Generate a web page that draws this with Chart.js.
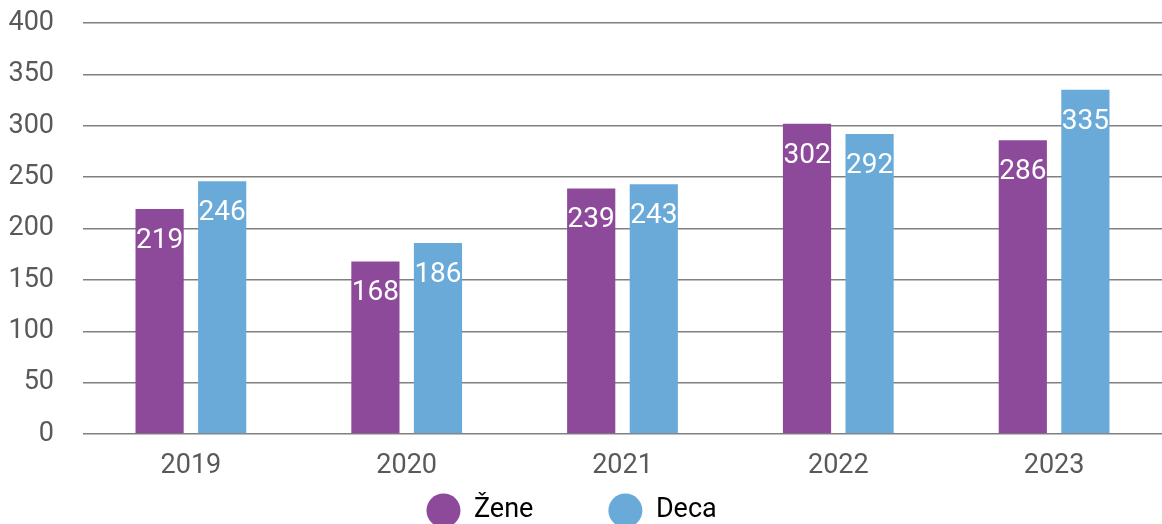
<!DOCTYPE html>
<html>
<head>
<meta charset="utf-8">
<script src="https://cdn.jsdelivr.net/npm/chart.js@4/dist/chart.umd.min.js"></script>
<style>
    html, body { margin: 0; padding: 0; background: #fff; }
    #wrap { width: 1162px; height: 524px; }
</style>
</head>
<body>
<div id="wrap"><canvas id="chart"></canvas></div>
<script>
const years = ["2019", "2020", "2021", "2022", "2023"];
const zene = [219, 168, 239, 302, 286];
const deca = [246, 186, 243, 292, 335];
const seriesNames = ["Žene", "Deca"];

const axisFont = "Roboto, sans-serif";

// values drawn in white just below the top of each bar
const barValues = {
    id: "barValues",
    afterDatasetsDraw(chart) {
        const ctx = chart.ctx;
        ctx.save();
        ctx.fillStyle = "#ffffff";
        ctx.font = "28px Roboto, sans-serif";
        ctx.textAlign = "center";
        ctx.textBaseline = "middle";
        chart.data.datasets.forEach((ds, i) => {
            chart.getDatasetMeta(i).data.forEach((bar, j) => {
                ctx.fillText(String(ds.data[j]), bar.x, bar.y + 32);
            });
        });
        ctx.restore();
    }
};

new Chart(document.getElementById("chart"), {
    type: "bar",
    data: {
        labels: years,
        datasets: [
            { label: seriesNames[0], data: zene, backgroundColor: "#8E4A9A" },
            { label: seriesNames[1], data: deca, backgroundColor: "#6AAAD9" },
        ]
    },
    options: {
        responsive: true,
        maintainAspectRatio: false,
        animation: false,
        categoryPercentage: 0.58,
        barPercentage: 0.77,
        layout: { padding: { left: 8, right: 0, top: 23, bottom: -10 } },
        plugins: {
            tooltip: { enabled: false },
            legend: {
                position: "bottom",
                labels: {
                    usePointStyle: true,
                    pointStyle: "circle",
                    pointStyleWidth: 34,
                    boxHeight: 24,
                    padding: 8,
                    color: "#595959",
                    font: { family: axisFont, size: 27 },
                    // trailing spaces only widen the items so they sit like the original
                    generateLabels(chart) {
                        return chart.data.datasets.map((ds, i) => ({
                            text: i === 0 ? ds.label + "          " : ds.label + "    ",
                            fillStyle: ds.backgroundColor,
                            strokeStyle: ds.backgroundColor,
                            lineWidth: 0,
                            pointStyle: "circle",
                            hidden: false,
                            datasetIndex: i
                        }));
                    }
                }
            }
        },
        scales: {
            x: {
                grid: { display: false, drawTicks: false },
                border: { display: false },
                ticks: { color: "#595959", padding: 16, font: { family: axisFont, size: 27 } },
                afterFit(scale) { scale.height = 55; }
            },
            y: {
                min: 0,
                max: 400,
                grid: { color: "#808080", lineWidth: 1.5, drawTicks: false },
                border: { display: false },
                ticks: { stepSize: 50, color: "#595959", padding: 29, font: { family: axisFont, size: 27 } },
                afterFit(scale) {
                    scale.width = 75;
                    scale.paddingTop = 0;
                    scale.paddingBottom = 0;
                }
            }
        }
    },
    plugins: [barValues]
});
</script>
</body>
</html>
